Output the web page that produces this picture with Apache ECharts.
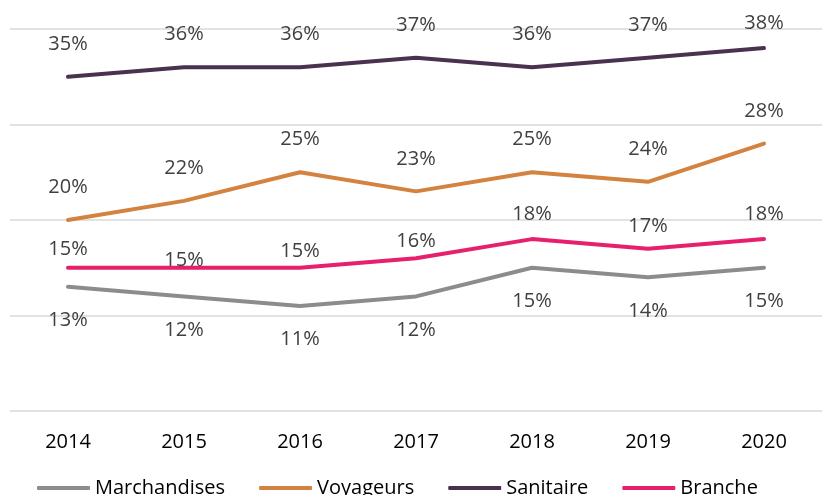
<!DOCTYPE html>
<html>
<head>
<meta charset="utf-8">
<script src="https://cdn.jsdelivr.net/npm/echarts@6/dist/echarts.min.js"></script>
<style>
  html, body { margin: 0; padding: 0; background: #fff; }
  #chart { width: 822px; height: 495px; }
</style>
</head>
<body>
<div id="chart"></div>
<script>
// years on x axis
const years = ["2014", "2015", "2016", "2017", "2018", "2019", "2020"];
// shares in %
const marchandises = [13, 12, 11, 12, 15, 14, 15];
const voyageurs = [20, 22, 25, 23, 25, 24, 28];
const sanitaire = [35, 36, 36, 37, 36, 37, 38];
const branche = [15, 15, 15, 16, 18, 17, 18];

// small vertical nudges of some labels (px), like the original layout
const sanitaireLabelNudge = [0, 0, 0, 0, 0, 0, 8];
const brancheLabelNudge = [-2, 9, 0, 0, -8, -6, -8];

const FONT = "'Open Sans', 'Liberation Sans', sans-serif";

function makeSeries(name, data, color, position, distance, nudge) {
  return {
    name: name,
    type: "line",
    data: data.map((v, i) => ({
      value: v,
      label: { offset: [0, nudge ? nudge[i] : 0] },
    })),
    symbol: "circle",
    symbolSize: 1,
    itemStyle: { color: color },
    lineStyle: { color: color, width: 4, cap: "round", join: "round" },
    label: {
      show: true,
      position: position,
      distance: distance,
      formatter: "{c}%",
      color: "#404040",
      fontSize: 20,
      fontFamily: FONT,
    },
    emphasis: { disabled: true },
    animation: false,
  };
}

const chart = echarts.init(document.getElementById("chart"));
chart.setOption({
  animation: false,
  grid: { left: 10, right: -8, top: 29, bottom: 84 },
  legend: {
    top: 473,
    left: 32,
    itemWidth: 53,
    itemHeight: 4,
    itemGap: 34,
    icon: "roundRect",
    textStyle: { color: "#000", fontSize: 20, fontFamily: FONT },
    data: ["Marchandises", "Voyageurs", "Sanitaire", "Branche"],
  },
  xAxis: {
    type: "category",
    data: years,
    boundaryGap: true,
    axisLine: { show: false },
    axisTick: { show: false },
    axisLabel: { color: "#000", fontSize: 20, fontFamily: FONT, margin: 21 },
  },
  yAxis: {
    type: "value",
    min: 0,
    max: 40,
    interval: 10,
    axisLabel: { show: false },
    axisLine: { show: false },
    axisTick: { show: false },
    splitLine: { lineStyle: { color: "#d9d9d9", width: 1.5 } },
  },
  series: [
    makeSeries("Marchandises", marchandises, "#8c8c8c", "bottom", 23),
    makeSeries("Voyageurs", voyageurs, "#d3823f", "top", 22),
    makeSeries("Sanitaire", sanitaire, "#4a3150", "top", 22, sanitaireLabelNudge),
    makeSeries("Branche", branche, "#e6206e", "top", 6, brancheLabelNudge),
  ],
});
</script>
</body>
</html>
